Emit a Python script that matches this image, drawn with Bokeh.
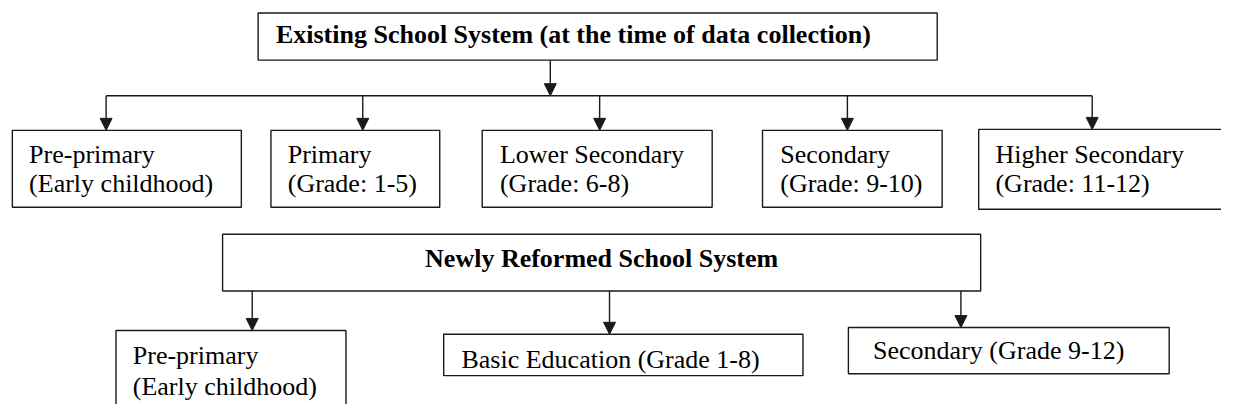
from bokeh.plotting import figure
from bokeh.models import Range1d, ColumnDataSource, Arrow, NormalHead
from bokeh.core.properties import value
from bokeh.embed import file_html
from bokeh.resources import INLINE

FONT = "Liberation Serif"
LINE = "#1a1a1a"

# ---- content ----
top_title = "Existing School System (at the time of data collection)"
new_title = "Newly Reformed School System"

old_labels = ["Pre-primary", "Primary", "Lower Secondary", "Secondary", "Higher Secondary"]
old_sub = ["(Early childhood)", "(Grade: 1-5)", "(Grade: 6-8)", "(Grade: 9-10)", "(Grade: 11-12)"]

new_labels = ["Pre-primary", "Basic Education (Grade 1-8)", "Secondary (Grade 9-12)"]
new_sub = ["(Early childhood)", "", ""]

# ---- layout (pixel positions in the reference picture) ----
top_box = dict(left=261, right=949, top=13, bottom=62)
top_text_xy = (279, 44)
bus_y = 99
top_arrow_x = 557

old_left = [12, 274, 488, 772, 991]
old_right = [244, 445, 721, 954, 1245]
old_top = [135, 135, 135, 135, 134]
old_bottom = [215, 215, 215, 215, 217]
old_arrow_x = [107, 367, 607, 858, 1106]
old_text_x = [29, 291, 506, 790, 1008]
old_base1 = 169
old_base2 = 199

new_box = dict(left=225, right=993, top=243, bottom=302)
new_text_xy = (609, 277)

nb_left = [117, 449, 859]
nb_right = [350, 813, 1184]
nb_top = [343, 347, 340]
nb_bottom = [430, 390, 388]
nb_arrow_x = [255, 617, 973]
nb_text_x = [134, 467, 884]
nb_base1 = [378, 382, 373]
nb_base2 = [410, None, None]

FS = "26px"
TEXT_SHIFT = 9  # renderer places alphabetic baseline slightly low

p = figure(width=1221, height=404, output_backend="svg", toolbar_location=None,
           x_range=Range1d(0, 1237), y_range=Range1d(420, 0),
           min_border=0, outline_line_color=None)
p.axis.visible = False
p.grid.visible = False
p.background_fill_color = "white"
p.border_fill_color = "white"

def boxes(l, r, t, b):
    p.quad(left=l, right=r, top=t, bottom=b, fill_color="white",
           line_color=LINE, line_width=1.4)

boxes([top_box["left"]], [top_box["right"]], [top_box["top"]], [top_box["bottom"]])
boxes(old_left, old_right, old_top, old_bottom)
boxes([new_box["left"]], [new_box["right"]], [new_box["top"]], [new_box["bottom"]])
boxes(nb_left, nb_right, nb_top, nb_bottom)

# bus line
p.segment(x0=[min(old_arrow_x)], y0=[bus_y], x1=[max(old_arrow_x)], y1=[bus_y],
          line_color=LINE, line_width=1.4)

# arrows
ax0 = [top_arrow_x] + old_arrow_x + nb_arrow_x
ay0 = [top_box["bottom"]] + [bus_y] * len(old_arrow_x) + [new_box["bottom"]] * len(nb_arrow_x)
ay1 = [bus_y] + old_top + nb_top
asrc = ColumnDataSource(dict(x0=ax0, y0=ay0, x1=ax0, y1=ay1))
p.add_layout(Arrow(end=NormalHead(size=12, fill_color=LINE, line_color=LINE, line_width=1),
                   x_start="x0", y_start="y0", x_end="x1", y_end="y1",
                   source=asrc, line_color=LINE, line_width=1.4))

def txt(xs, ys, texts, bold=False, align="left"):
    p.text(x=xs, y=[y - TEXT_SHIFT for y in ys], text=texts, text_font=value(FONT),
           text_font_size=FS, text_font_style="bold" if bold else "normal",
           text_color="black", text_align=align, text_baseline="alphabetic")

txt([top_text_xy[0]], [top_text_xy[1]], [top_title], bold=True)
txt([new_text_xy[0]], [new_text_xy[1]], [new_title], bold=True, align="center")
txt(old_text_x, [old_base1] * 5, old_labels)
txt(old_text_x, [old_base2] * 5, old_sub)
txt(nb_text_x, nb_base1, new_labels)
sx = [x for x, s in zip(nb_text_x, new_sub) if s]
sy = [y for y, s in zip(nb_base2, new_sub) if s]
txt(sx, sy, [s for s in new_sub if s])

open("out.html", "w").write(file_html(p, INLINE))
